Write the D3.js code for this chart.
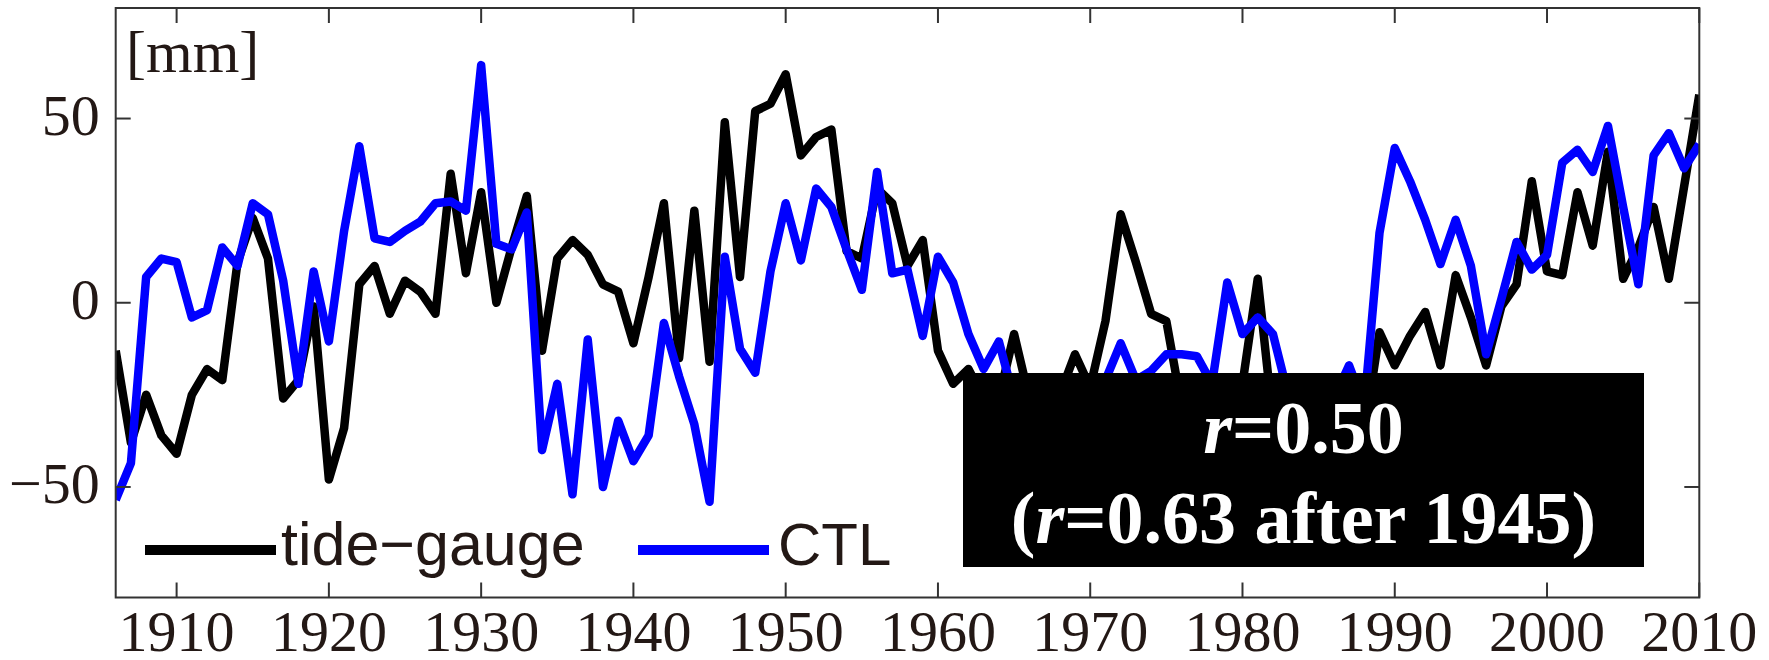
<!DOCTYPE html>
<html>
<head>
<meta charset="utf-8">
<script src="https://cdn.jsdelivr.net/npm/d3@7"></script>
<style>
  body { margin: 0; background: #fff; }
  svg { display: block; }
</style>
</head>
<body>
<script>
// sea level anomaly [mm], 1906-2010
var firstYear = 1906, lastYear = 2010;
var years = d3.range(firstYear, lastYear + 1);

var tideGauge = [
  -13, -38, -25, -36, -41, -25, -18, -21, 11, 23,
  12, -26, -21, -1, -48, -34, 5, 10, -3, 6,
  3, -3, 35, 8, 30, 0, 15, 29, -13, 12,
  17, 13, 5, 3, -11, 7, 27, -15, 25, -16,
  49, 7, 52, 54, 62, 40, 45, 47, 14, 12,
  31, 27, 10, 17, -13, -22, -18, -26, -26, -8.5,
  -26, -28, -25, -14, -23, -5, 24, 11, -3, -5,
  -28, -30, -26, -28, -22, 6.5, -32, -28, -30, -27,
  -30, -28, -35, -8, -17, -9, -2.5, -17, 7.5, -4,
  -17, -1, 5, 33, 8.5, 7.5, 30, 15.5, 41, 6.5,
  15, 26, 6.5, 31.5, 56.5
];

var ctl = [
  -53.5, -43.5, 7, 12, 11, -4, -2, 15, 10, 27,
  24, 6, -22, 8.5, -10.5, 19.5, 42.5, 17.5, 16.5, 19.5,
  22, 27, 27.5, 25, 64.5, 16, 14.5, 24.5, -40, -22,
  -52, -10, -50, -32, -43, -36, -5.5, -20, -33, -54,
  12.5, -12.5, -19, 8.5, 27, 11.5, 31, 26, 14.5, 3.5,
  35.5, 8, 9, -9, 12.5, 5.5, -8.5, -18, -10.5, -26,
  -30, -28, -30, -27, -30, -21, -11, -21, -18.5, -14,
  -14, -14.5, -22, 5.5, -8.5, -4, -8.5, -25, -30, -28,
  -26, -17, -28, 19, 42, 33, 22.5, 10.5, 22.5, 10,
  -14, 1, 16.5, 9, 13, 38, 41.5, 35.5, 48, 26,
  5, 40, 46, 36.5, 43
];

var xTicks = [1910, 1920, 1930, 1940, 1950, 1960, 1970, 1980, 1990, 2000, 2010];
var yTicks = [-50, 0, 50];
var seriesNames = ["tide\u2212gauge", "CTL"];
var seriesColors = ["#000000", "#0000ff"];

var width = 1769, height = 660;
var margin = {left: 115.7, right: 69.7, top: 8, bottom: 62.5};
var textColor = "#231815";

var svg = d3.select("body").append("svg")
    .attr("width", width).attr("height", height);

var x = d3.scaleLinear().domain([firstYear, lastYear]).range([margin.left, width - margin.right]);
var y = d3.scaleLinear().domain([-80, 80]).range([height - margin.bottom, margin.top]);

svg.append("defs").append("clipPath").attr("id", "plotclip")
  .append("rect")
    .attr("x", margin.left).attr("y", margin.top)
    .attr("width", width - margin.left - margin.right)
    .attr("height", height - margin.top - margin.bottom);

var line = d3.line()
    .x(function(d){ return x(d.year); })
    .y(function(d){ return y(d.value); });

var series = [tideGauge, ctl].map(function(vals, i){
  return {
    name: seriesNames[i], color: seriesColors[i],
    points: vals.map(function(v, j){ return {year: years[j], value: v}; })
  };
});

var lines = svg.append("g").attr("clip-path", "url(#plotclip)");
series.forEach(function(s){
  lines.append("path")
      .attr("fill", "none")
      .attr("stroke", s.color)
      .attr("stroke-width", 8.5)
      .attr("stroke-linejoin", "round")
      .attr("d", line(s.points));
});

// axes, ticks on all four sides pointing in
var tickLen = 15;
var frame = svg.append("g").attr("stroke", "#333").attr("stroke-width", 2);
frame.append("rect")
    .attr("x", margin.left).attr("y", margin.top)
    .attr("width", width - margin.left - margin.right)
    .attr("height", height - margin.top - margin.bottom)
    .attr("fill", "none");

xTicks.forEach(function(t){
  frame.append("line").attr("x1", x(t)).attr("x2", x(t))
      .attr("y1", y.range()[0]).attr("y2", y.range()[0] - tickLen);
  frame.append("line").attr("x1", x(t)).attr("x2", x(t))
      .attr("y1", y.range()[1]).attr("y2", y.range()[1] + tickLen);
});
yTicks.forEach(function(t){
  frame.append("line").attr("y1", y(t)).attr("y2", y(t))
      .attr("x1", x.range()[0]).attr("x2", x.range()[0] + tickLen);
  frame.append("line").attr("y1", y(t)).attr("y2", y(t))
      .attr("x1", x.range()[1]).attr("x2", x.range()[1] - tickLen);
});

var labels = svg.append("g")
    .attr("font-family", "'Liberation Serif', 'Times New Roman', serif")
    .attr("font-size", 58)
    .attr("fill", textColor);

labels.selectAll(".xl").data(xTicks).enter().append("text")
    .attr("class", "xl")
    .attr("x", function(d){ return x(d); })
    .attr("y", 651)
    .attr("text-anchor", "middle")
    .text(function(d){ return d; });

labels.selectAll(".yl").data(yTicks).enter().append("text")
    .attr("class", "yl")
    .attr("x", margin.left - 16)
    .attr("y", function(d){ return y(d) + 16; })
    .attr("text-anchor", "end")
    .text(function(d){ return d < 0 ? "\u2212" + Math.abs(d) : d; });

labels.append("text")
    .attr("x", 126).attr("y", 72)
    .attr("font-size", 60)
    .text("[mm]");

// legend
var legend = svg.append("g")
    .attr("font-family", "'Liberation Sans', Arial, sans-serif")
    .attr("font-size", 60)
    .attr("fill", textColor);
var legendX = [145, 638];
var legendGap = [136, 140];
series.forEach(function(s, i){
  legend.append("line")
      .attr("x1", legendX[i]).attr("x2", legendX[i] + 131)
      .attr("y1", 550).attr("y2", 550)
      .attr("stroke", s.color).attr("stroke-width", 10);
  legend.append("text")
      .attr("x", legendX[i] + legendGap[i]).attr("y", 565)
      .attr("font-size", i === 0 ? 61 : 60)
      .text(s.name);
});

// correlation box
var box = {x: 963, y: 373, w: 681, h: 194};
svg.append("rect")
    .attr("x", box.x).attr("y", box.y)
    .attr("width", box.w).attr("height", box.h)
    .attr("fill", "#000");

var boxText = svg.append("g")
    .attr("font-family", "'Liberation Serif', 'Times New Roman', serif")
    .attr("font-size", 74)
    .attr("font-weight", "bold")
    .attr("fill", "#fff")
    .attr("text-anchor", "middle");

var t1 = boxText.append("text").attr("x", box.x + box.w / 2).attr("y", 453);
t1.append("tspan").attr("font-style", "italic").text("r");
t1.append("tspan").text("=0.50");

var t2 = boxText.append("text").attr("x", box.x + box.w / 2).attr("y", 543);
t2.append("tspan").text("(");
t2.append("tspan").attr("font-style", "italic").text("r");
t2.append("tspan").text("=0.63 after 1945)");
</script>
</body>
</html>
